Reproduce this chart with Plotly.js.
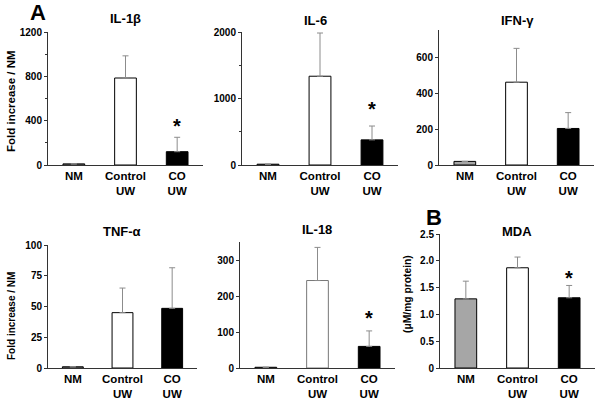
<!DOCTYPE html>
<html>
<head>
<meta charset="utf-8">
<script src="https://cdn.plot.ly/plotly-3.0.1.min.js"></script>
<style>html,body{margin:0;padding:0;background:#fff}#chart{width:600px;height:404px}</style>
</head>
<body>
<div id="chart"></div>
<script>
// ---- data ----
var categories = ['NM', 'Control<br>UW', 'CO<br>UW'];
var il1b = [10, 785, 120];      var il1bErr = [0, 200, 130];
var il6 = [12, 1335, 378];      var il6Err = [0, 650, 208];
var ifng = [20, 460, 203];      var ifngErr = [0, 188, 88];
var tnfa = [1, 45, 48.5];       var tnfaErr = [0, 20, 33];
var il18 = [2, 243, 60];        var il18Err = [0, 92, 43];
var mda = [1.29, 1.87, 1.31];   var mdaErr = [0.33, 0.20, 0.23];
var panelTitles = ['IL-1β', 'IL-6', 'IFN-γ', 'TNF-α', 'IL-18', 'MDA'];
var starPanels = [true, true, false, false, true, true];

// ---- layout helpers (pixels) ----
var W = 600, H = 404;
var panels = [
  {y: il1b, e: il1bErr, x0: 48, x1: 203, yb: 165, yt: 32, range: [0, 1200], tickvals: [0, 400, 800, 1200], minor: 200, star: 10},
  {y: il6, e: il6Err, x0: 242, x1: 398, yb: 165, yt: 32, range: [0, 2000], tickvals: [0, 1000, 2000], minor: 500, star: 16},
  {y: ifng, e: ifngErr, x0: 439, x1: 594, yb: 165, yt: 30, range: [0, 750], tickvals: [0, 200, 400, 600], minor: null, star: 0},
  {y: tnfa, e: tnfaErr, x0: 48, x1: 197, yb: 368, yt: 245, range: [0, 100], tickvals: [0, 25, 50, 75, 100], minor: null, star: 0},
  {y: il18, e: il18Err, x0: 240, x1: 395, yb: 368, yt: 242, range: [0, 350], tickvals: [0, 100, 200, 300], minor: null, star: 12},
  {y: mda, e: mdaErr, x0: 440, x1: 595, yb: 368, yt: 234, range: [0, 2.5], tickvals: [0, 0.5, 1, 1.5, 2, 2.5],
   ticktext: ['0', '0.5', '1.0', '1.5', '2.0', '2.5'], minor: null, star: 6}
];
var titlePos = [[125, 18], [315, 20], [517, 20], [122, 232], [317, 230], [517, 232]];

var FONT = 'Liberation Sans, Arial, sans-serif';
var barColors = ['#a6a6a6', '#ffffff', '#000000'];
var traces = [];
var layout = {
  width: W, height: H, margin: {l: 0, r: 0, t: 0, b: 0},
  paper_bgcolor: '#fff', plot_bgcolor: 'rgba(0,0,0,0)',
  showlegend: false, bargap: 0.58,
  font: {family: FONT, color: '#000'},
  annotations: []
};

panels.forEach(function (p, i) {
  var n = i === 0 ? '' : String(i + 1);
  var outline = (i === 4) ? ['#000', '#777', '#000'] : ['#000', '#000', '#000'];
  traces.push({
    type: 'bar', x: categories, y: p.y,
    xaxis: 'x' + n, yaxis: 'y' + n,
    marker: {color: barColors, line: {color: outline, width: 1}},
    error_y: {type: 'data', symmetric: false, array: p.e, arrayminus: [0, 0, 0],
              color: '#8c8c8c', thickness: 1, width: 3},
    hoverinfo: 'skip'
  });
  layout['xaxis' + n] = {
    domain: [p.x0 / W, p.x1 / W], anchor: 'y' + n,
    type: 'category', range: [-0.5, 2.5],
    showline: true, linecolor: '#333', linewidth: 1,
    ticks: '', showgrid: false, zeroline: false, fixedrange: true,
    tickfont: {family: FONT, size: 11.5, weight: 'bold', color: '#000'}
  };
  var ya = {
    domain: [1 - p.yb / H, 1 - p.yt / H], anchor: 'x' + n,
    range: p.range, tickmode: 'array', tickvals: p.tickvals,
    showline: true, linecolor: '#333', linewidth: 1,
    ticks: 'outside', ticklen: 3, tickcolor: '#333',
    showgrid: false, zeroline: false, fixedrange: true,
    tickfont: {family: FONT, size: 10, weight: 'bold', color: '#000'}
  };
  if (p.ticktext) ya.ticktext = p.ticktext;
  if (p.minor) ya.minor = {dtick: p.minor, tick0: 0, ticks: 'outside', ticklen: 2, tickcolor: '#333', showgrid: false};
  layout['yaxis' + n] = ya;

  layout.annotations.push({
    text: panelTitles[i], xref: 'paper', yref: 'paper',
    x: titlePos[i][0] / W, y: 1 - titlePos[i][1] / H,
    xanchor: 'center', yanchor: 'middle', showarrow: false,
    font: {family: FONT, size: 13, weight: 'bold', color: '#000'}
  });
  if (starPanels[i]) {
    layout.annotations.push({
      text: '*', xref: 'x' + n, yref: 'y' + n,
      x: categories[2], y: p.y[2] + p.e[2],
      xanchor: 'center', yanchor: 'bottom', yshift: p.star - 12, showarrow: false,
      font: {family: FONT, size: 20, weight: 'bold', color: '#000'}
    });
  }
});

// y axis titles
layout.annotations.push(
  {text: 'Fold increase / NM', xref: 'paper', yref: 'paper', x: 11 / W, y: 1 - 101 / H, textangle: -90,
   xanchor: 'center', yanchor: 'middle', showarrow: false, font: {family: FONT, size: 11.5, weight: 'bold'}},
  {text: 'Fold increase / NM', xref: 'paper', yref: 'paper', x: 11 / W, y: 1 - 316 / H, textangle: -90,
   xanchor: 'center', yanchor: 'middle', showarrow: false, font: {family: FONT, size: 10, weight: 'bold'}},
  {text: '(μM/mg protein)', xref: 'paper', yref: 'paper', x: 407 / W, y: 1 - 294 / H, textangle: -90,
   xanchor: 'center', yanchor: 'middle', showarrow: false, font: {family: FONT, size: 10.3, weight: 'bold'}},
  {text: 'A', xref: 'paper', yref: 'paper', x: 38 / W, y: 1 - 12 / H, xanchor: 'center', yanchor: 'middle',
   showarrow: false, font: {family: FONT, size: 22, weight: 'bold'}},
  {text: 'B', xref: 'paper', yref: 'paper', x: 434 / W, y: 1 - 217 / H, xanchor: 'center', yanchor: 'middle',
   showarrow: false, font: {family: FONT, size: 22, weight: 'bold'}}
);

Plotly.newPlot('chart', traces, layout, {staticPlot: true, displayModeBar: false});
</script>
</body>
</html>
